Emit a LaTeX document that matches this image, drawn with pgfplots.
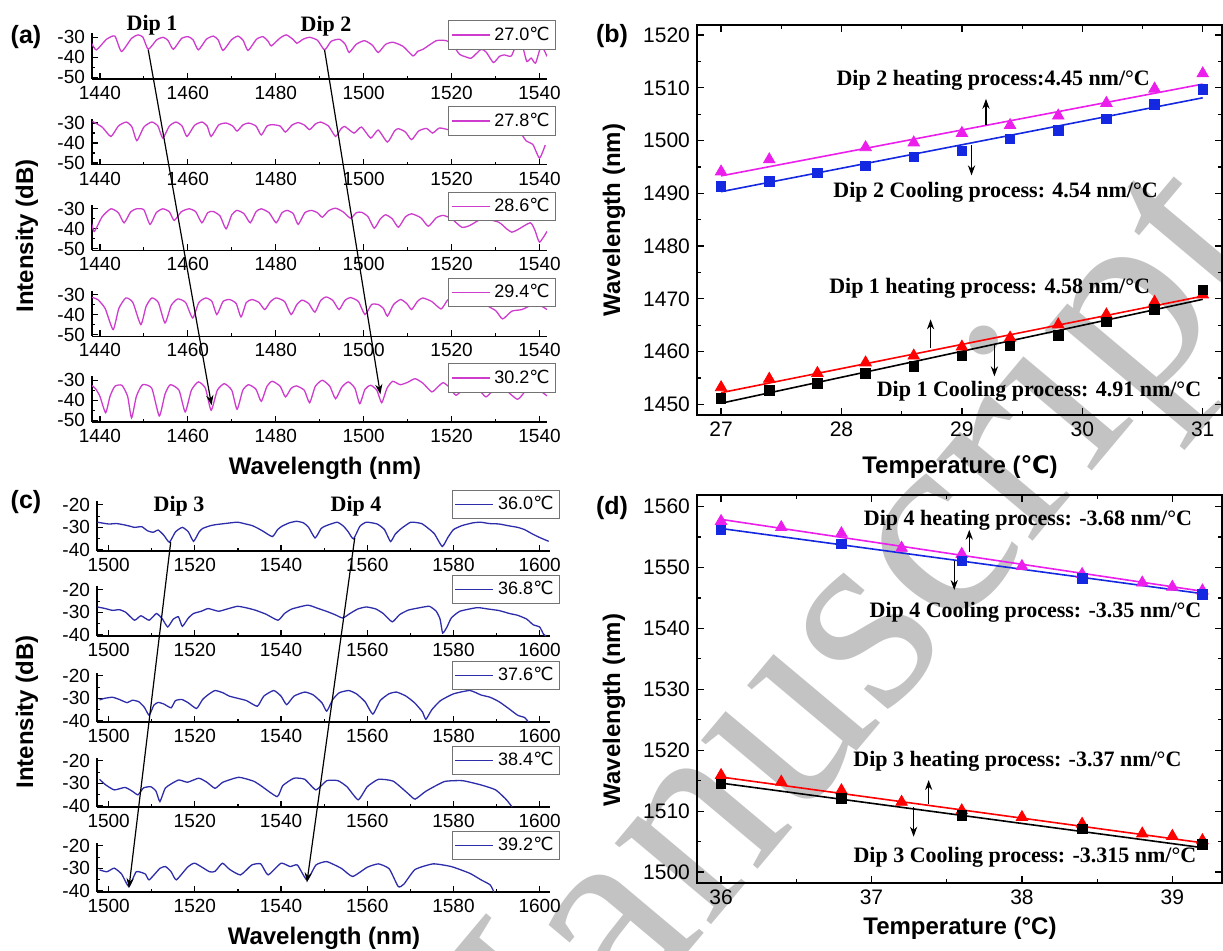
\documentclass[border=0pt]{standalone}
\usepackage{fontspec}
\setmainfont{Liberation Sans}
\newfontfamily\timesf{Liberation Serif}
\newfontfamily\dejavu{DejaVu Sans}
\usepackage{pgfplots}
\pgfplotsset{compat=1.18}
\usetikzlibrary{arrows.meta}
\definecolor{magA}{RGB}{205,60,205}
\definecolor{navC}{RGB}{45,45,170}
\definecolor{magB}{RGB}{235,30,235}
\definecolor{bluB}{RGB}{20,40,225}
\definecolor{wm}{RGB}{195,195,195}
\newcommand{\cel}{{\dejavu ℃}}
\tikzset{darr/.style={-{Stealth[length=5pt,width=3.6pt]}, line width=0.6pt, black},
  annot/.style={font=\timesf\bfseries\fontsize{11}{11}\selectfont}}
\pgfplotsset{
  spec/.style={scale only axis, anchor=south west, axis x line*=bottom, axis y line*=left,
    tick align=inside, major tick length=3pt, minor tick length=1.6pt,
    minor x tick num=1, minor y tick num=1,
    tick label style={font=\fontsize{9.5}{10}\selectfont},
    /pgf/number format/assume math mode=true, /pgf/number format/1000 sep={},
    axis line style={line width=0.7pt}, every tick/.style={black, line width=0.6pt},
    legend style={draw=black!55, fill=white, line width=0.5pt, inner sep=1pt,
      font=\fontsize{9}{9}\selectfont, legend cell align=left, anchor=north east},
    legend image code/.code={\draw[#1, line width=0.75pt] (0pt,0pt) -- (19pt,0pt);},
  },
  specA/.style={spec, width=227.5pt, height=22.85pt, xmin=1438.2, xmax=1541.7, ymin=-50.85, ymax=-28,
    xtick={1440,1460,...,1540}, ytick={-50,-40,-30}, legend style={at={(axis description cs:1.02,1.28)}}},
  specC/.style={spec, width=226.5pt, height=24.75pt, xmin=1497.3, xmax=1602.4, ymin=-40.5, ymax=-18.5,
    xtick={1500,1520,...,1600}, ytick={-40,-30,-20}, legend style={at={(axis description cs:1.022,1.24)}}},
  fitax/.style={scale only axis, anchor=south west, width=262.5pt, tick align=inside,
    major tick length=3.5pt, minor tick length=2pt, minor x tick num=1, minor y tick num=1,
    tick label style={font=\fontsize{10.5}{11}\selectfont},
    /pgf/number format/assume math mode=true, /pgf/number format/1000 sep={},
    axis line style={line width=0.7pt}, every tick/.style={black, line width=0.6pt}, clip=false},
  lineA/.style={magA, line width=0.65pt, smooth, tension=0.35},
  lineC/.style={navC, line width=0.65pt, smooth, tension=0.3},
}
\begin{document}
\begin{tikzpicture}
\path[use as bounding box] (0,0) rectangle (611.5pt,475pt);
% watermark
\node[rotate=50, anchor=base west, text=wm, inner sep=0pt, font=\timesf\fontsize{137}{137}\selectfont] at (236pt,-130pt) {Manuscript};

% ---------------- panel (a) ----------------
\begin{axis}[specA, at={(46pt,435.5pt)}]
\addplot[lineA] coordinates {
(1438.1,-33)(1439.2,-36.3)(1441.5,-31)(1443.4,-29.4)(1444.9,-37.1)(1447.2,-30.5)(1448.7,-28.8)(1449.8,-30)
(1451.0,-36)(1452.9,-31.3)(1454.4,-30)(1455.5,-31.6)(1456.7,-36)(1458.6,-30.5)(1460.1,-29.7)(1461.2,-31.3)
(1462.4,-36.3)(1464.2,-31)(1465.8,-29.4)(1466.9,-31.3)(1468.0,-36.6)(1469.9,-31.3)(1471.4,-29.4)(1472.6,-31.6)
(1473.7,-36.6)(1475.6,-31)(1477.1,-29.7)(1478.3,-32.1)(1479.0,-34.3)(1480.9,-30.5)(1482.4,-28.8)(1484,-31.2)
(1484.8,-33)(1486.2,-31)(1487.7,-30)(1489.5,-31.5)(1491.1,-36.3)(1492.6,-32)(1494.5,-31)(1495.8,-33.5)
(1496.7,-37.6)(1498.3,-33.5)(1500.2,-31.7)(1502,-34)(1503.3,-37.6)(1505,-33.5)(1506.7,-32.5)(1509,-34.6)
(1511.2,-39.3)(1512.3,-37)(1513.5,-36)(1516.5,-31.7)(1518.8,-31.7)(1520.3,-34)(1521.8,-38.5)(1523,-39.6)
(1524.5,-40.4)(1526.7,-36)(1527.9,-37.5)(1529.5,-42.6)(1530.9,-39.5)(1532,-38.8)(1533.6,-39.3)(1535.1,-31.7)
(1536.2,-35)(1537.1,-42.1)(1538.1,-40.4)(1539.1,-42.9)(1540.4,-34.3)(1541.7,-39.6)};
\addlegendentry{27.0\cel}
\coordinate (d1s) at (axis cs:1451,-36.3);
\coordinate (d2s) at (axis cs:1491.1,-36.3);
\end{axis}

\begin{axis}[specA, at={(46pt,392.625pt)}]
\addplot[lineA] coordinates {
(1438.3,-29.2)(1440.5,-32)(1442.5,-36.7)(1444.2,-31.5)(1446,-29.5)(1447.3,-32)(1448.4,-38.8)(1450,-32)
(1451.8,-29.5)(1453.2,-31.5)(1454.3,-37.5)(1455.8,-31.5)(1457.3,-29.5)(1458.7,-31.5)(1459.8,-36.7)(1461.5,-31.2)
(1463.2,-29.5)(1464.4,-31.5)(1465.3,-36.7)(1467,-31)(1468.7,-30)(1470.2,-31.5)(1471.2,-34)(1472.5,-31)
(1473.8,-30)(1475.5,-31.5)(1476.7,-36)(1478,-31.5)(1479.2,-30.8)(1481,-31.5)(1482.2,-34.5)(1483.7,-31)
(1485.1,-29.8)(1486.5,-31)(1487.7,-33.3)(1489,-30.5)(1490.2,-29.5)(1492,-31.5)(1493.6,-36.7)(1494.8,-33)
(1495.7,-31.7)(1497.8,-35)(1499.5,-32)(1501.6,-37.5)(1503.3,-33.5)(1505.4,-39.5)(1507,-34)(1507.9,-32.8)
(1509.5,-34.5)(1510.9,-38.3)(1512.5,-34)(1514.3,-32.7)(1515.7,-35)(1517.2,-32.5)(1519.5,-33.5)(1521.9,-35.8)
(1524,-33.5)(1527,-33)(1530,-34)(1532,-32.5)(1534,-35.8)(1535.3,-34)(1537,-39)(1538.5,-40.8)
(1540,-47.5)(1541.3,-41)};
\addlegendentry{27.8\cel}
\end{axis}

\begin{axis}[specA, at={(46pt,349.75pt)}]
\addplot[lineA] coordinates {
(1437.9,-35)(1438.7,-41.3)(1440.5,-34)(1442.5,-30)(1444.2,-32)(1445.5,-37)(1447,-31.5)(1448.4,-30)
(1450,-30.5)(1451.4,-37.8)(1452.8,-32)(1454.3,-30)(1455.8,-31.5)(1456.9,-35.8)(1458.5,-31.5)(1460.3,-30)
(1461.8,-31.5)(1463.2,-37)(1464.5,-32)(1465.7,-31.3)(1467.3,-33.5)(1468.7,-40)(1470,-33)(1471.2,-30.8)
(1472.8,-32.5)(1474.2,-37)(1475.5,-31.5)(1476.7,-30)(1478.5,-32)(1480.1,-37)(1481.4,-32)(1482.6,-30.8)
(1484,-32.5)(1485.1,-37.8)(1486.6,-32)(1488.1,-30.8)(1489.5,-32)(1490.6,-34.2)(1492,-31)(1493.6,-29.7)
(1495.3,-31.5)(1497,-34.7)(1498.3,-32)(1499.5,-31.7)(1501,-34)(1502.4,-39.7)(1503.8,-35)(1505,-33)
(1506.5,-35)(1507.9,-39.2)(1509.5,-34)(1510.9,-32.5)(1513,-34.5)(1514.7,-38.7)(1516.5,-34.5)(1518.1,-33.3)
(1520,-35)(1522.3,-39.2)(1524,-38.5)(1527,-35)(1530.7,-36.7)(1532.5,-40)(1533.7,-41.7)(1535,-40.5)
(1537.9,-37)(1539,-41)(1540,-46.7)(1541.7,-41.3)};
\addlegendentry{28.6\cel}
\end{axis}

\begin{axis}[specA, at={(46pt,306.875pt)}]
\addplot[lineA] coordinates {
(1437.9,-31.2)(1439.5,-32.5)(1441.2,-37)(1443,-47.5)(1444.3,-37)(1445.9,-31.7)(1447.5,-34)(1449.3,-45)
(1450.5,-36)(1451.8,-31.7)(1453.3,-34)(1454.8,-44.2)(1456.2,-35.5)(1457.7,-32.2)(1459.5,-34)(1461.1,-41.7)
(1462.5,-34)(1464.1,-31.7)(1465.5,-33.5)(1466.6,-40)(1468,-33.5)(1469.5,-32.5)(1471,-34.5)(1472.1,-41.2)
(1473.3,-34)(1474.6,-32.5)(1476.2,-34)(1477.5,-37.5)(1478.8,-33.5)(1480.1,-31.7)(1482,-33.5)(1483.5,-40)
(1484.8,-35)(1486,-32.8)(1487.5,-34.5)(1488.9,-38.8)(1490.2,-33)(1491.5,-31.2)(1493,-33)(1494.4,-37.5)
(1495.7,-33)(1497,-31.5)(1498.8,-33.5)(1500.3,-40)(1501.8,-35)(1503.3,-35)(1504.5,-37)(1505.4,-40.8)
(1506.8,-35)(1508.4,-32.5)(1509.8,-34.5)(1510.9,-37.5)(1512.2,-33.5)(1513.4,-31.7)(1515.5,-33.5)(1517.6,-37.2)
(1519,-33)(1520.2,-31)(1523,-32)(1527,-34.5)(1530,-38)(1531.6,-42.2)(1533.7,-38.3)(1536,-37.5)
(1538.5,-35)(1540.4,-35.8)(1541.7,-37.5)};
\addlegendentry{29.4\cel}
\end{axis}

\begin{axis}[specA, at={(46pt,264pt)}]
\addplot[lineA] coordinates {
(1437.9,-32.2)(1439,-34.2)(1440,-38)(1441.3,-46.2)(1442.3,-38)(1443.4,-33)(1445,-32.5)(1446.3,-38)
(1447.2,-48.8)(1448.3,-38)(1449.7,-32.2)(1451.8,-34)(1453.5,-47.8)(1454.8,-37)(1456,-32.2)(1458,-35)
(1459.4,-45.8)(1460.8,-35)(1462.4,-30.8)(1464,-34)(1465.3,-45)(1466.7,-35)(1468.3,-31.7)(1470,-35)
(1471.2,-44.5)(1472.5,-35)(1473.8,-32.2)(1475.5,-34.5)(1476.7,-40.5)(1478,-33)(1479.2,-30.5)(1481,-33)
(1482.2,-38.3)(1483.5,-34)(1484.7,-32.8)(1486.5,-35)(1487.7,-41.2)(1489,-33)(1490.6,-30)(1492.3,-33)
(1493.6,-39.2)(1495,-33.5)(1496.5,-30.8)(1498,-34)(1499.1,-41.7)(1500.3,-34.5)(1501.6,-32.5)(1503,-35)
(1504.1,-41.2)(1505.3,-34)(1506.6,-30.5)(1508.3,-32.2)(1510,-31)(1511.7,-29.2)(1513.5,-31.5)(1515.5,-35.8)
(1517,-33)(1518.1,-31.2)(1519.5,-33.5)(1521,-37.5)(1523,-34)(1526,-34.5)(1527.8,-38.3)(1529.5,-35)
(1532,-34.5)(1535,-39.5)(1537,-35)(1539.5,-34.5)(1541.7,-37.8)};
\addlegendentry{30.2\cel}
\coordinate (d1e) at (axis cs:1465.4,-42.5);
\coordinate (d2e) at (axis cs:1503.8,-37);
\end{axis}

% ---------------- panel (c) ----------------
\begin{axis}[specC, at={(48.5pt,199.5pt)}]
\addplot[lineC] coordinates {
(1497.4,-27.7)(1500,-28.5)(1501.8,-28.3)(1503.4,-28.8)(1505,-29.5)(1506,-30)(1507.7,-29.7)(1509,-31.5)
(1510.3,-32.2)(1511.5,-31.2)(1512.8,-33.5)(1514.1,-36.6)(1515.5,-32)(1517.1,-30)(1518.5,-32)(1519.7,-36.2)
(1521,-32)(1521.8,-30.5)(1523.5,-29.3)(1524.8,-28.8)(1527.4,-28.2)(1529.9,-27.7)(1531.8,-28.5)(1533.3,-29.2)
(1534.7,-30.5)(1535.9,-31.8)(1538,-34.1)(1539.2,-31)(1540.2,-29.5)(1541.9,-28)(1543.6,-27.3)(1545.2,-28)
(1546.4,-30)(1547.9,-34.7)(1549.3,-30.5)(1550.4,-29.3)(1553,-27.7)(1554.5,-29.5)(1555.6,-32)(1556.8,-35.1)
(1558.3,-29.5)(1559.8,-27.7)(1562.3,-28.5)(1564,-31)(1565.4,-36.3)(1566.5,-33)(1567.9,-30.5)(1570.1,-27.7)
(1572.6,-28.3)(1574.2,-30.5)(1575.6,-32.9)(1577.4,-38.5)(1578.7,-34.5)(1580,-31)(1582,-29.2)(1584.5,-28)
(1586.3,-27.7)(1588.3,-28.3)(1590.6,-28.5)(1592.8,-29.3)(1594.9,-30)(1596.5,-31)(1598.3,-32.9)(1600,-34.5)
(1602.1,-36.2)};
\addlegendentry{36.0\cel}
\coordinate (d3s) at (axis cs:1514.4,-36.6);
\coordinate (d4s) at (axis cs:1557.1,-34.7);
\end{axis}

\begin{axis}[specC, at={(48.5pt,157pt)}]
\addplot[lineC] coordinates {
(1497.4,-27.6)(1499,-28.2)(1500.9,-29.1)(1502.5,-28.8)(1504,-30)(1506,-33.5)(1507.5,-31.5)(1509.4,-33.5)
(1511.1,-30.5)(1512.5,-33)(1513.7,-36.5)(1515,-33)(1516.2,-32)(1517.1,-36.2)(1518.5,-32.5)(1519.7,-30.5)
(1521.5,-29.5)(1523.1,-28.3)(1525.5,-29.5)(1527.5,-28.5)(1529.9,-27.3)(1532,-28)(1534,-29)(1536.5,-30.8)
(1539.3,-33.5)(1540.8,-30.5)(1542.5,-28.5)(1546.2,-26.8)(1548.5,-28.2)(1550.5,-29.5)(1552.5,-31)(1554.3,-32.5)
(1556,-30.5)(1557.8,-28.5)(1559.8,-27.6)(1562,-28.5)(1563.7,-30.5)(1565.8,-34.2)(1567.5,-31)(1569.5,-29)
(1572,-28)(1574.4,-27.3)(1576,-29.5)(1576.9,-33)(1577.5,-39.2)(1578.5,-36.5)(1579.5,-32.5)(1581.5,-29.5)
(1585.5,-27.9)(1588,-28.5)(1590.6,-29.2)(1593,-30.5)(1594.9,-31.3)(1597,-33)(1598.5,-35.5)(1600,-36.5)
(1600.9,-39.7)(1601.5,-40.5)};
\addlegendentry{36.8\cel}
\end{axis}

\begin{axis}[specC, at={(48.5pt,114pt)}]
\addplot[lineC] coordinates {
(1497.9,-30.7)(1499,-30)(1500.9,-29.5)(1502.5,-30.5)(1504.3,-31.9)(1505.5,-30.8)(1507,-31.5)(1508.3,-34)
(1509.4,-37.5)(1510.5,-33)(1511.5,-31.8)(1512.8,-32.5)(1514.5,-34.2)(1515.5,-31)(1517,-30.5)(1518.5,-32)
(1520.4,-34.5)(1521.8,-30.5)(1523.2,-28.2)(1524.7,-26.5)(1526.5,-27.5)(1528,-29)(1530,-30)(1532,-31)
(1534.5,-33.5)(1536,-29)(1538.3,-26.5)(1540,-29)(1541.3,-32.8)(1543,-29)(1545.5,-27.2)(1547.5,-28.5)
(1549.5,-32)(1550.6,-35.7)(1552,-30.5)(1553.5,-27.5)(1555.7,-26.5)(1557.5,-28)(1559.5,-31.5)(1561.3,-37)
(1563,-31)(1565,-28)(1566.8,-27.2)(1569,-29)(1571,-32)(1572.8,-36)(1573.6,-39.3)(1575,-35)
(1577,-31)(1580,-28)(1583.8,-26.5)(1586.4,-28.5)(1588.5,-29.5)(1590.6,-31.5)(1592.8,-34.5)(1594.9,-37.5)
(1596.5,-38.5)(1597.4,-40.5)};
\addlegendentry{37.6\cel}
\end{axis}

\begin{axis}[specC, at={(48.5pt,71.5pt)}]
\addplot[lineC] coordinates {
(1497.9,-28.2)(1499.2,-30.5)(1501.3,-32.9)(1503.8,-31.8)(1505.5,-33.5)(1506.8,-35.1)(1508.1,-32)(1509.8,-31.5)
(1511,-33.5)(1511.9,-38.1)(1513.2,-32)(1516.2,-28.5)(1518.3,-29.5)(1520.9,-27.7)(1522.8,-29.5)(1524.7,-32.2)
(1526.5,-29.5)(1530.2,-27.3)(1533.6,-29)(1535.3,-31)(1539.1,-35.9)(1540.4,-31)(1543,-27.7)(1545.5,-28.2)
(1548.1,-32.9)(1550.6,-28.8)(1553.2,-28.8)(1555.3,-31.5)(1557.9,-37.3)(1560,-31.5)(1562.6,-28.2)(1566,-29)
(1569.4,-34.4)(1571.1,-37)(1573.6,-33.5)(1577.9,-29.2)(1582.1,-28.8)(1586.4,-30.7)(1589.8,-32.9)(1592.3,-37.3)
(1593.6,-40.5)};
\addlegendentry{38.4\cel}
\end{axis}

\begin{axis}[specC, at={(48.5pt,29pt)}]
\addplot[lineC] coordinates {
(1497.9,-30.7)(1499.6,-31.5)(1501.3,-29.9)(1503,-32.5)(1504.7,-38.1)(1506.4,-31.5)(1508.5,-32.5)(1509.4,-35.1)
(1511.9,-30)(1513.2,-29.2)(1514.5,-31.5)(1515.7,-35.1)(1518.3,-29.5)(1520,-27.7)(1523.4,-31.5)(1524.7,-31.3)
(1526.4,-27.7)(1528.1,-30.5)(1530.6,-32.9)(1533.2,-28.5)(1535.3,-28)(1537,-32.9)(1540,-27.7)(1542.1,-29.2)
(1543.8,-28.5)(1546,-35.1)(1548.1,-28.5)(1550.6,-27)(1554,-30)(1556.6,-33.6)(1560,-29.5)(1562.6,-28)
(1565.1,-30.2)(1567.2,-38.1)(1568.5,-37)(1571.1,-30.5)(1575.3,-28)(1579.5,-29.2)(1583.8,-32.2)(1586.4,-35.1)
(1588.5,-37.3)(1589.4,-40.5)};
\addlegendentry{39.2\cel}
\coordinate (d3e) at (axis cs:1504.7,-38.8);
\coordinate (d4e) at (axis cs:1546,-36.3);
\end{axis}

% ---------------- panel (b) ----------------
\begin{axis}[fitax, at={(348.5pt,267.5pt)}, height=195pt, xmin=26.8, xmax=31.16, ymin=1447.97, ymax=1521.9,
  xtick={27,28,29,30,31}, ytick={1450,1460,...,1520}]
\addplot[magB, line width=0.8pt] coordinates {(27,1493.3)(31,1510.7)};
\addplot[bluB, line width=0.8pt] coordinates {(27,1490.3)(31,1508.1)};
\addplot[red, line width=0.8pt] coordinates {(27,1452.2)(31,1470.5)};
\addplot[black, line width=0.8pt] coordinates {(27,1450.2)(31,1469.9)};
\addplot[only marks, mark=triangle*, mark size=3.3pt, color=magB] coordinates {
(27,1494.1)(27.4,1496.4)(28.2,1498.7)(28.6,1499.6)(29,1501.4)(29.4,1502.9)(29.8,1504.7)(30.2,1507.1)(30.6,1509.8)(31,1512.7)};
\addplot[only marks, mark=square*, mark size=2.4pt, color=bluB] coordinates {
(27,1491.25)(27.4,1492.3)(27.8,1493.9)(28.2,1495.2)(28.6,1496.9)(29,1498)(29.4,1500.3)(29.8,1501.9)(30.2,1504.1)(30.6,1506.9)(31,1509.7)};
\addplot[only marks, mark=triangle*, mark size=3.3pt, color=red] coordinates {
(27,1453.2)(27.4,1454.8)(27.8,1455.9)(28.2,1457.9)(28.6,1459.2)(29,1460.9)(29.4,1462.6)(29.8,1465.1)(30.2,1467)(30.6,1469.4)(31,1470.8)};
\addplot[only marks, mark=square*, mark size=2.4pt, color=black] coordinates {
(27,1451.1)(27.4,1452.6)(27.8,1454)(28.2,1455.9)(28.6,1457.2)(29,1459.2)(29.4,1461.1)(29.8,1463.1)(30.2,1465.6)(30.6,1468)(31,1471.7)};
\node[annot] at (axis cs:29.26,1511.5) {Dip 2 heating process:4.45 nm/°C};
\node[annot] at (axis cs:29.28,1490.1) {Dip 2 Cooling process: 4.54 nm/°C};
\node[annot] at (axis cs:29.23,1472.0) {Dip 1 heating process: 4.58 nm/°C};
\node[annot] at (axis cs:29.64,1452.4) {Dip 1 Cooling process: 4.91 nm/°C};
\draw[darr] (axis cs:29.2,1502.9) -- (axis cs:29.2,1507.9);
\draw[darr] (axis cs:29.08,1499.2) -- (axis cs:29.08,1493.4);
\draw[darr] (axis cs:28.74,1460.7) -- (axis cs:28.74,1466.1);
\draw[darr] (axis cs:29.27,1461.3) -- (axis cs:29.27,1455.3);
\end{axis}

% ---------------- panel (d) ----------------
\begin{axis}[fitax, at={(348.5pt,33.5pt)}, height=194pt, xmin=35.84, xmax=39.33, ymin=1498.2, ymax=1561.9,
  xtick={36,37,38,39}, ytick={1500,1510,...,1560}]
\addplot[magB, line width=0.8pt] coordinates {(36,1557.9)(39.2,1546.1)};
\addplot[bluB, line width=0.8pt] coordinates {(36,1556.4)(39.2,1545.7)};
\addplot[red, line width=0.8pt] coordinates {(36,1515.6)(39.2,1504.8)};
\addplot[black, line width=0.8pt] coordinates {(36,1514.6)(39.2,1504.0)};
\addplot[only marks, mark=triangle*, mark size=3.3pt, color=magB] coordinates {
(36,1557.6)(36.4,1556.6)(36.8,1555.6)(37.2,1553.2)(37.6,1552.2)(38,1550.2)(38.4,1548.9)(38.8,1547.5)(39,1546.8)(39.2,1546.2)};
\addplot[only marks, mark=square*, mark size=2.4pt, color=bluB] coordinates {
(36,1556.2)(36.8,1553.9)(37.6,1551.1)(38.4,1548.2)(39.2,1545.6)};
\addplot[only marks, mark=triangle*, mark size=3.3pt, color=red] coordinates {
(36,1515.9)(36.4,1514.8)(36.8,1513.4)(37.2,1511.5)(37.6,1510.1)(38,1509)(38.4,1507.9)(38.8,1506.3)(39,1505.9)(39.2,1505.2)};
\addplot[only marks, mark=square*, mark size=2.4pt, color=black] coordinates {
(36,1514.5)(36.8,1512.1)(37.6,1509.3)(38.4,1507.1)(39.2,1504.5)};
\node[annot] at (axis cs:38.04,1557.8) {Dip 4 heating process: -3.68 nm/°C};
\node[annot] at (axis cs:38.09,1542.7) {Dip 4 Cooling process: -3.35 nm/°C};
\node[annot] at (axis cs:37.97,1518.1) {Dip 3 heating process: -3.37 nm/°C};
\node[annot] at (axis cs:38.02,1502.5) {Dip 3 Cooling process: -3.315 nm/°C};
\draw[darr] (axis cs:37.65,1552.6) -- (axis cs:37.65,1556.2);
\draw[darr] (axis cs:37.55,1551) -- (axis cs:37.55,1546.3);
\draw[darr] (axis cs:37.38,1511.1) -- (axis cs:37.38,1515.1);
\draw[darr] (axis cs:37.28,1510.7) -- (axis cs:37.28,1505.8);
\end{axis}

% dip arrows across stacked spectra
\draw[darr] (d1s) -- (d1e);
\draw[darr] (d2s) -- (d2e);
\draw[darr] (d3s) -- (d3e);
\draw[darr] (d4s) -- (d4e);

% labels
\node[font=\bfseries\fontsize{12.5}{12.5}\selectfont] at (13pt,456.5pt) {(a)};
\node[font=\bfseries\fontsize{12.5}{12.5}\selectfont] at (306pt,457pt) {(b)};
\node[font=\bfseries\fontsize{12.5}{12.5}\selectfont] at (13pt,224pt) {(c)};
\node[font=\bfseries\fontsize{12.5}{12.5}\selectfont] at (306pt,221pt) {(d)};
\node[annot] at (76pt,462.5pt) {Dip 1};
\node[annot] at (163pt,462pt) {Dip 2};
\node[annot] at (89.5pt,222pt) {Dip 3};
\node[annot] at (178pt,222pt) {Dip 4};
\node[font=\bfseries\fontsize{12}{12}\selectfont] at (162.5pt,241pt) {Wavelength (nm)};
\node[font=\bfseries\fontsize{12}{12}\selectfont] at (162pt,6pt) {Wavelength (nm)};
\node[font=\bfseries\fontsize{12}{12}\selectfont, rotate=90] at (13.5pt,357pt) {Intensity (dB)};
\node[font=\bfseries\fontsize{12}{12}\selectfont, rotate=90] at (13.5pt,119pt) {Intensity (dB)};
\node[font=\bfseries\fontsize{12}{12}\selectfont, rotate=90] at (307pt,365pt) {Wavelength (nm)};
\node[font=\bfseries\fontsize{12}{12}\selectfont, rotate=90] at (307pt,120pt) {Wavelength (nm)};
\node[font=\bfseries\fontsize{12}{12}\selectfont] at (480pt,241.5pt) {Temperature (\cel)};
\node[font=\bfseries\fontsize{12}{12}\selectfont] at (480pt,11pt) {Temperature (°C)};
\end{tikzpicture}
\end{document}
